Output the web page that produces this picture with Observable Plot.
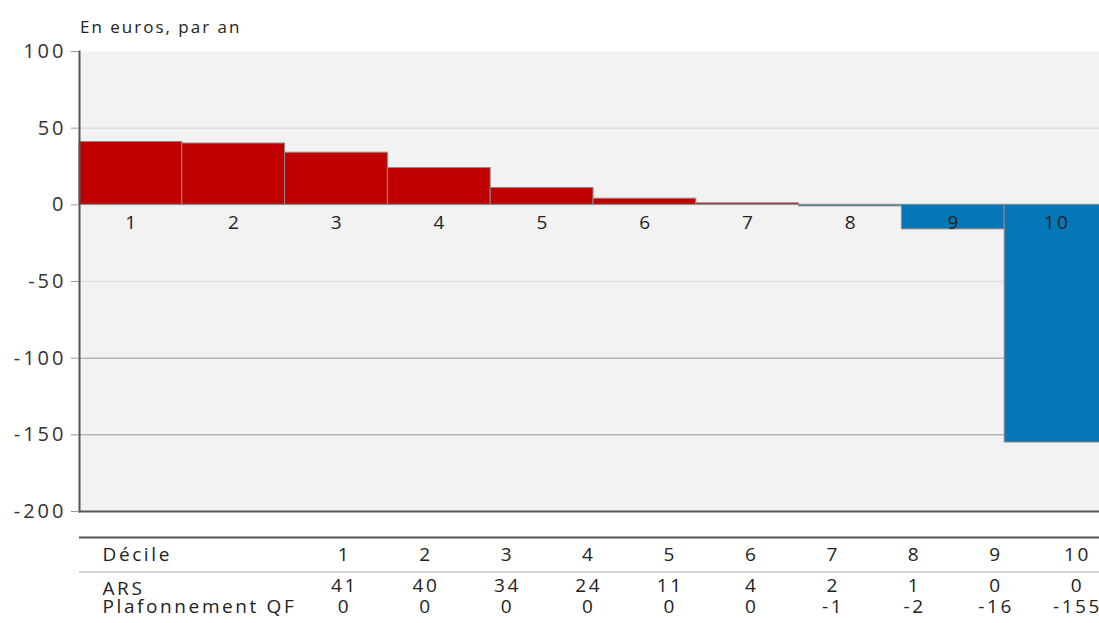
<!DOCTYPE html>
<html>
<head>
<meta charset="utf-8">
<script src="https://cdn.jsdelivr.net/npm/d3@7"></script>
<script src="https://cdn.jsdelivr.net/npm/@observablehq/plot@0.6"></script>
<style>
  html, body { margin: 0; padding: 0; background: #fff; overflow: hidden; width: 1099px; height: 623px; }
  #wrap { position: relative; width: 1099px; height: 623px; font-family: "Open Sans", sans-serif; color: #222; overflow: hidden; }
  #title { position: absolute; left: 80px; top: 15px; font-size: 17px; letter-spacing: 2px; }
  #chart { position: absolute; left: 0; top: 0; width: 1200px; }
  #table { position: absolute; left: 0; top: 530px; width: 1200px; }
  svg { overflow: visible; max-width: none !important; }
  .mainplot text { letter-spacing: 2.5px; }
  .mainplot g[aria-label="y-axis tick label"] text { letter-spacing: 3px; }
  .tableplot text { letter-spacing: 2.6px; }
</style>
</head>
<body>
<div id="wrap">
  <div id="chart"></div>
  <div id="table"></div>
  <div id="title">En euros, par an</div>
</div>
<script>
const deciles = ["1", "2", "3", "4", "5", "6", "7", "8", "9", "10"];
const ars = [41, 40, 34, 24, 11, 4, 2, 1, 0, 0];
const qf = [0, 0, 0, 0, 0, 0, -1, -2, -16, -155];
const yTicks = [100, 50, 0, -50, -100, -150, -200];
const gridLight = [50, 0, -50];
const gridDark = [-100, -150];
const rowLabels = ["Décile", "ARS", "Plafonnement QF"];

const bars = deciles.map((d, i) => ({decile: d, net: ars[i] + qf[i]}));
const font = '"Open Sans", sans-serif';

const chart = Plot.plot({
  className: "mainplot",
  width: 1107,
  height: 530,
  marginLeft: 79,
  marginRight: 0,
  marginTop: 51,
  marginBottom: 19,
  style: {fontFamily: font, background: "transparent", overflow: "visible", maxWidth: "none"},
  x: {type: "band", domain: deciles, padding: 0, round: false, axis: null},
  y: {domain: [-200, 100], ticks: yTicks, label: null},
  marks: [
    Plot.frame({fill: "#f2f2f2", stroke: null}),
    Plot.ruleY(gridLight, {stroke: "#e0e0e0", strokeWidth: 1.5}),
    Plot.ruleY(gridDark, {stroke: "#b4b4b4", strokeWidth: 1.5}),
    Plot.barY(bars, {
      x: "decile", y: "net",
      fill: d => d.net >= 0 ? "#c00000" : "#0677b6",
      stroke: "#8a8a8a", strokeWidth: 1, insetLeft: 0, insetRight: 0
    }),
    Plot.text(deciles, {x: d => d, y: () => 0, dy: 18, dx: 1, fontSize: 19, fill: "#222", text: d => d}),
    Plot.ruleY([-200], {stroke: "#555", strokeWidth: 2}),
    Plot.frame({anchor: "left", stroke: "#555", strokeWidth: 2}),
    Plot.axisY(yTicks, {
      tickSize: 8, tickPadding: 5, stroke: "#999", fontSize: 20, fill: "#333",
      tickFormat: d => String(d)
    })
  ]
});
document.getElementById("chart").appendChild(chart);

const rowPos = ["top", "Décile", "sep", "ARS", "Plafonnement QF"];
const cells = [];
deciles.forEach((d, i) => {
  cells.push({row: "Décile", col: d, text: d});
  cells.push({row: "ARS", col: d, text: String(ars[i])});
  cells.push({row: "Plafonnement QF", col: d, text: String(qf[i])});
});

const table = Plot.plot({
  className: "tableplot",
  width: 1117,
  height: 93,
  marginLeft: 79,
  marginRight: 0,
  marginTop: 0,
  marginBottom: 0,
  style: {fontFamily: font, background: "transparent", overflow: "visible", maxWidth: "none"},
  x: {type: "band", domain: deciles, range: [302.3, 1116.7], padding: 0, round: false, axis: null},
  y: {type: "point", domain: rowPos, range: [7, 76], padding: 0, round: false, axis: null},
  marks: [
    Plot.ruleY(["top"], {stroke: "#555", strokeWidth: 2}),
    Plot.ruleY(["sep"], {stroke: "#c8c8c8", strokeWidth: 1.5}),
    Plot.text(rowLabels, {
      y: d => d, text: d => d, frameAnchor: "left", textAnchor: "start", dx: 23,
      fontSize: 19, fill: "#222"
    }),
    Plot.text(cells.filter(c => c.row !== "ARS"), {
      x: "col", y: "row", text: "text", fontSize: 19, fill: "#222", dx: 1
    }),
    Plot.text(cells.filter(c => c.row === "ARS"), {
      x: "col", y: "row", text: "text", fontSize: 19, fill: "#222", dx: 1, dy: -3
    })
  ]
});
document.getElementById("table").appendChild(table);
</script>
</body>
</html>
